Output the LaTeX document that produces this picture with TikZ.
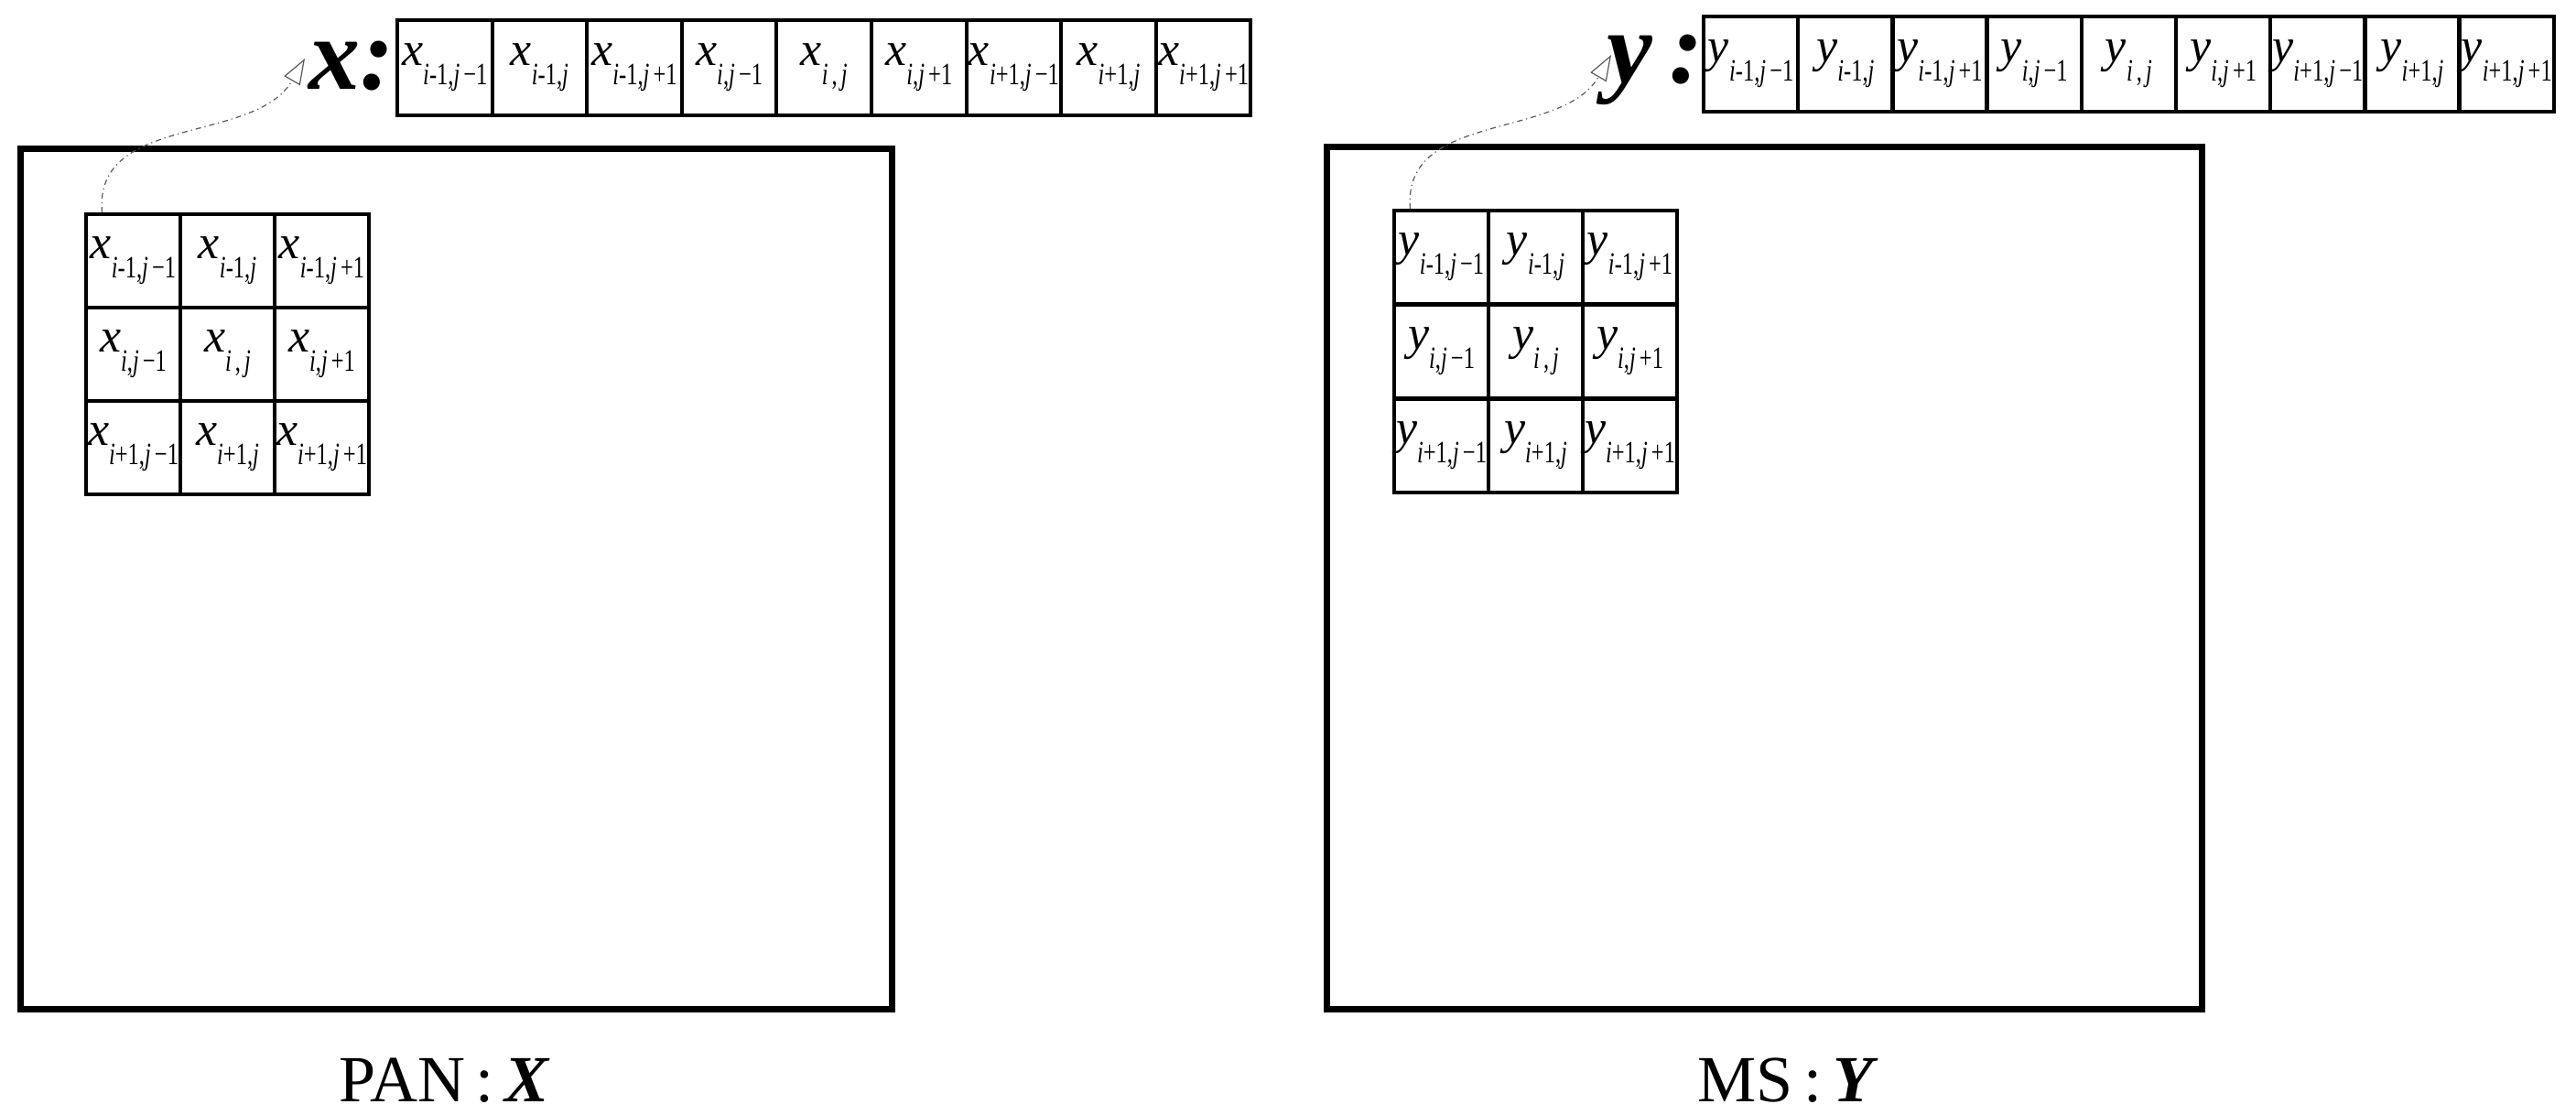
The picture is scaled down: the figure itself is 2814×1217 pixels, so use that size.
\documentclass[tikz,border=0pt]{standalone}
\usepackage{fontspec}
\setmainfont{Liberation Serif}
\usepackage{graphicx}
\usetikzlibrary{arrows.meta}
\newcommand\cellt[2]{\textit{#1}\raisebox{-0.4em}{\fontsize{17}{17}\selectfont\scalebox{0.72}[1]{#2}}}
\begin{document}
\begin{tikzpicture}[x=0.5pt,y=-0.5pt,
  bigbox/.style={line width=3.5pt},
  cellbox/.style={draw,line width=2pt,minimum width=51.5pt,minimum height=51pt,inner sep=0pt,font=\fontsize{26}{26}\selectfont},
  stripbox/.style={draw,line width=2pt,minimum width=51.8pt,minimum height=52pt,inner sep=0pt,font=\fontsize{26}{26}\selectfont},
  biglab/.style={font=\fontsize{56}{56}\selectfont\bfseries\itshape,inner sep=0pt},
  caplab/.style={font=\fontsize{36}{36}\selectfont,inner sep=0pt},
  link/.style={gray!70!black,line width=0.6pt,dash dot,-{Triangle[open,length=14pt,width=10pt]}}]
\useasboundingbox (0,0) rectangle (2814,1217);
% big boxes
\draw[bigbox] (22,162) rectangle (974,1102);
\draw[bigbox] (1449,160) rectangle (2405,1102);
% subscript lists
\def\subsL{{"\textit{i}-1,\textit{j}\,−1","\textit{i}-1,\textit{j}","\textit{i}-1,\textit{j}\,+1","\textit{i},\textit{j}\,−1","\textit{i}\,,\,\textit{j}","\textit{i},\textit{j}\,+1","\textit{i}+1,\textit{j}\,−1","\textit{i}+1,\textit{j}","\textit{i}+1,\textit{j}\,+1"}}
\foreach \k in {0,...,8}{
  \pgfmathsetmacro\r{int(\k/3)}
  \pgfmathsetmacro\c{int(mod(\k,3))}
  \pgfmathparse{\subsL[\k]}\let\s\pgfmathresult
  \node[cellbox] (gx-\k) at ({94+51.5+103*\c},{234+51+102*\r}) {\cellt{x}{\s}};
  \node[cellbox] (gy-\k) at ({1523+51.5+103*\c},{230+51+103*\r}) {\cellt{y}{\s}};
  \node[stripbox] (sx-\k) at ({434+51.8+103.6*\k},74) {\cellt{x}{\s}};
  \node[stripbox] (sy-\k) at ({1861+51.6+103.2*\k},70) {\cellt{y}{\s}};
}
\node[biglab] (lx) at (384,72) {x:};
\node[biglab] (ly) at (1808,76) {y\,:};
\coordinate (ax) at (333,64);
\coordinate (ay) at (1760,60);
\draw[link] ([xshift=-17pt]gx-0.north) to[out=95,in=240] (ax);
\draw[link] ([xshift=-17pt]gy-0.north) to[out=95,in=240] (ay);
\node[caplab] (px) at (486,1180) {PAN\,:\,\textbf{\textit{X}}};
\node[caplab] (py) at (1953,1180) {MS\,:\,\textbf{\textit{Y}}};
\end{tikzpicture}
\end{document}
